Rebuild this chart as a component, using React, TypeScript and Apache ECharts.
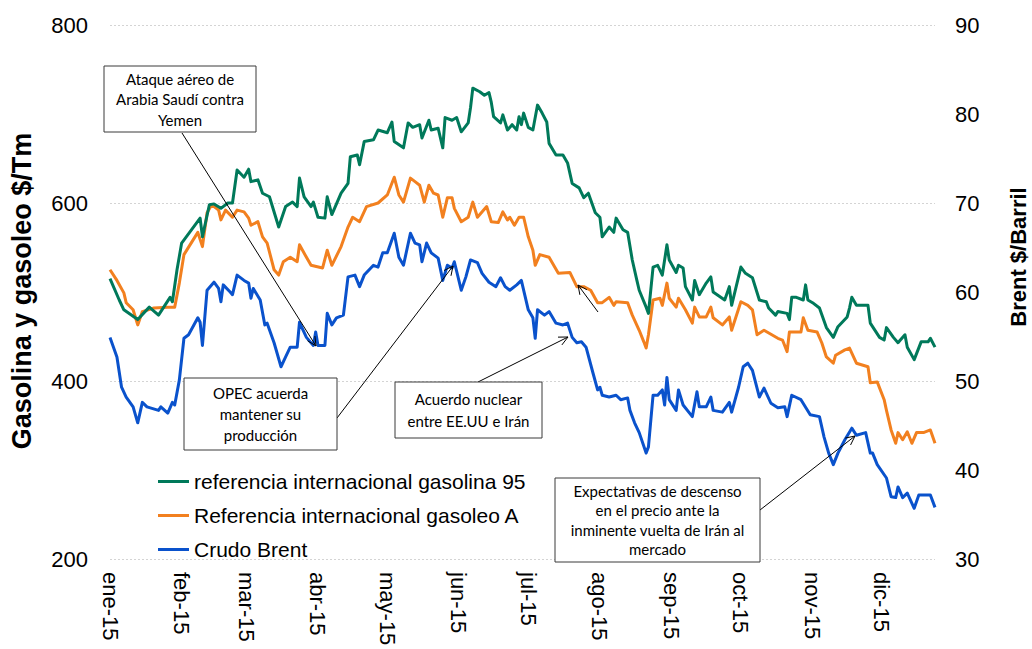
import React, { useEffect, useRef } from "react";
import * as echarts from "echarts";

const monthNames = ["ene", "feb", "mar", "abr", "may", "jun", "jul", "ago", "sep", "oct", "nov", "dic"];
const firstDay = "2015-01-01";
const lastDay = "2015-12-24";

const leftAxis = { min: 200, max: 800, interval: 200, name: "Gasolina y gasoleo $/Tm" };
const rightAxis = { min: 30, max: 90, interval: 10, name: "Brent $/Barril" };

const seriesNames = [
  "referencia internacional gasolina 95",
  "Referencia internacional gasoleo A",
  "Crudo Brent",
];

const gasolinaDates = [
  "01-01", "01-05", "01-07", "01-13", "01-18", "01-22", "01-27", "01-28", "01-30", "02-01",
  "02-03", "02-09", "02-10", "02-13", "02-15", "02-18", "02-21", "02-23", "02-25", "02-28",
  "03-02", "03-03", "03-06", "03-08", "03-11", "03-15", "03-18", "03-21", "03-23", "03-24",
  "03-26", "03-29", "03-30", "04-01", "04-04", "04-05", "04-07", "04-11", "04-14", "04-15",
  "04-18", "04-19", "04-21", "04-25", "04-27", "05-01", "05-03", "05-04", "05-08", "05-10",
  "05-12", "05-15", "05-16", "05-19", "05-20", "05-23", "05-25", "05-26", "05-29", "05-31",
  "06-02", "06-05", "06-06", "06-07", "06-10", "06-12", "06-14", "06-15", "06-16", "06-19",
  "06-20", "06-22", "06-24", "06-26", "06-27", "06-28", "06-29", "07-01", "07-03", "07-05",
  "07-07", "07-09", "07-10", "07-13", "07-16", "07-18", "07-20", "07-23", "07-25", "07-27",
  "07-30", "08-01", "08-02", "08-05", "08-07", "08-08", "08-11", "08-13", "08-15", "08-17",
  "08-18", "08-21", "08-22", "08-24", "08-26", "08-28", "08-30", "08-31", "09-03", "09-04",
  "09-06", "09-07", "09-10", "09-11", "09-13", "09-16", "09-18", "09-19", "09-24", "09-26",
  "09-27", "10-01", "10-03", "10-06", "10-09", "10-12", "10-13", "10-16", "10-17", "10-21",
  "10-22", "10-23", "10-25", "10-28", "10-29", "10-30", "11-01", "11-04", "11-07", "11-10",
  "11-12", "11-16", "11-17", "11-18", "11-20", "11-25", "11-26", "11-30", "12-02", "12-03",
  "12-06", "12-08", "12-09", "12-11", "12-12", "12-15", "12-18", "12-21", "12-22", "12-24",
];
const gasolinaValues = [
  515, 491, 480, 469, 483, 474, 494, 489, 525, 555,
  562, 583, 562, 598, 599, 594, 600, 600, 637, 629,
  638, 624, 626, 611, 607, 573, 596, 601, 596, 628,
  607, 596, 601, 584, 583, 607, 587, 611, 622, 652,
  654, 643, 669, 671, 682, 679, 691, 669, 662, 690,
  685, 688, 673, 693, 682, 684, 662, 696, 693, 696,
  680, 690, 707, 729, 725, 721, 724, 713, 697, 690,
  699, 682, 688, 682, 697, 688, 701, 685, 682, 710,
  701, 691, 667, 654, 654, 645, 622, 617, 606, 611,
  589, 584, 562, 573, 567, 583, 570, 567, 536, 513,
  502, 483, 476, 528, 530, 519, 553, 536, 522, 530,
  527, 506, 491, 513, 497, 510, 517, 500, 491, 506,
  485, 528, 521, 516, 491, 489, 482, 474, 478, 476,
  469, 494, 494, 491, 508, 491, 488, 482, 460, 449,
  461, 472, 482, 494, 485, 485, 465, 449, 446, 460,
  449, 443, 446, 452, 438, 424, 444, 444, 448, 438,
];

const gasoleoDates = [
  "01-01", "01-04", "01-07", "01-08", "01-11", "01-13", "01-15", "01-20", "01-26", "01-29",
  "01-31", "02-02", "02-08", "02-10", "02-12", "02-14", "02-17", "02-18", "02-20", "02-23",
  "02-25", "02-28", "03-02", "03-03", "03-06", "03-08", "03-10", "03-13", "03-15", "03-17",
  "03-20", "03-23", "03-24", "03-27", "03-29", "04-03", "04-05", "04-07", "04-11", "04-14",
  "04-16", "04-19", "04-22", "04-27", "05-01", "05-04", "05-06", "05-08", "05-11", "05-13",
  "05-15", "05-17", "05-19", "05-21", "05-23", "05-25", "05-27", "05-29", "05-30", "06-02",
  "06-05", "06-07", "06-09", "06-13", "06-15", "06-18", "06-20", "06-22", "06-23", "06-25",
  "06-27", "06-29", "07-01", "07-03", "07-04", "07-06", "07-10", "07-14", "07-19", "07-22",
  "07-25", "07-28", "07-31", "08-02", "08-05", "08-07", "08-08", "08-13", "08-15", "08-18",
  "08-20", "08-21", "08-22", "08-24", "08-27", "08-28", "08-30", "08-31", "09-03", "09-04",
  "09-07", "09-10", "09-11", "09-13", "09-16", "09-18", "09-19", "09-23", "09-26", "09-27",
  "10-01", "10-04", "10-06", "10-08", "10-11", "10-17", "10-19", "10-21", "10-22", "10-27",
  "10-28", "10-30", "11-03", "11-05", "11-07", "11-10", "11-11", "11-15", "11-17", "11-20",
  "11-25", "11-26", "11-29", "12-02", "12-03", "12-05", "12-07", "12-08", "12-10", "12-12",
  "12-14", "12-16", "12-19", "12-22", "12-24",
];
const gasoleoValues = [
  525, 513, 499, 488, 480, 463, 478, 482, 483, 483,
  510, 542, 567, 551, 589, 598, 592, 581, 592, 584,
  592, 590, 583, 575, 579, 562, 555, 525, 519, 534,
  539, 534, 553, 539, 530, 527, 547, 530, 551, 573,
  584, 579, 596, 600, 609, 629, 609, 601, 628, 624,
  620, 601, 620, 611, 609, 584, 606, 606, 594, 579,
  584, 601, 584, 596, 579, 578, 590, 581, 584, 575,
  584, 584, 562, 547, 530, 542, 539, 521, 522, 506,
  506, 502, 488, 488, 494, 485, 489, 488, 474, 457,
  444, 437, 452, 491, 493, 485, 510, 493, 483, 493,
  480, 465, 483, 472, 472, 483, 471, 463, 472, 457,
  489, 485, 480, 452, 457, 448, 446, 433, 455, 455,
  471, 457, 455, 443, 427, 420, 429, 435, 437, 420,
  416, 398, 399, 379, 367, 345, 330, 342, 334, 343,
  330, 342, 342, 345, 330,
];

const brentDates = [
  "01-01", "01-04", "01-06", "01-08", "01-11", "01-13", "01-15", "01-17", "01-22", "01-23",
  "01-26", "01-28", "01-29", "01-31", "02-02", "02-04", "02-08", "02-09", "02-10", "02-12",
  "02-15", "02-17", "02-18", "02-19", "02-22", "02-23", "02-25", "02-28", "03-02", "03-03",
  "03-04", "03-07", "03-09", "03-10", "03-13", "03-16", "03-18", "03-20", "03-23", "03-24",
  "03-27", "03-30", "03-31", "04-01", "04-04", "04-05", "04-07", "04-09", "04-12", "04-14",
  "04-17", "04-19", "04-21", "04-25", "04-27", "04-29", "05-01", "05-04", "05-06", "05-08",
  "05-11", "05-13", "05-15", "05-16", "05-18", "05-20", "05-23", "05-25", "05-27", "05-29",
  "05-30", "06-02", "06-04", "06-06", "06-09", "06-11", "06-14", "06-17", "06-19", "06-21",
  "06-23", "06-26", "06-28", "07-01", "07-03", "07-04", "07-05", "07-08", "07-10", "07-13",
  "07-16", "07-18", "07-20", "07-22", "07-24", "07-26", "07-29", "07-31", "08-01", "08-02",
  "08-05", "08-08", "08-10", "08-13", "08-14", "08-16", "08-18", "08-21", "08-22", "08-24",
  "08-26", "08-28", "08-29", "08-30", "08-31", "09-03", "09-04", "09-06", "09-10", "09-12",
  "09-13", "09-16", "09-18", "09-19", "09-23", "09-26", "09-27", "09-30", "10-02", "10-04",
  "10-06", "10-09", "10-11", "10-14", "10-17", "10-20", "10-21", "10-23", "10-27", "10-31",
  "11-04", "11-06", "11-08", "11-10", "11-12", "11-15", "11-18", "11-20", "11-24", "11-26",
  "11-27", "11-29", "12-03", "12-05", "12-07", "12-08", "12-10", "12-12", "12-15", "12-17",
  "12-22", "12-24",
];
const brentValues = [
  54.9, 52.7, 49.3, 48.2, 47.1, 45.3, 47.6, 47.1, 46.7, 47.1,
  46.4, 47.6, 47.3, 50.1, 54.8, 55.2, 57.1, 56.6, 54.0, 60.2,
  61.1, 60.4, 58.9, 60.8, 60.0, 59.7, 61.9, 61.3, 61.0, 59.3,
  60.4, 59.1, 56.3, 56.5, 54.3, 51.6, 52.7, 53.8, 53.8, 56.6,
  54.9, 54.0, 55.5, 54.0, 54.0, 57.6, 56.3, 57.1, 57.4, 61.7,
  61.9, 60.6, 61.9, 63.0, 62.8, 64.4, 64.4, 66.6, 63.9, 63.0,
  66.6, 65.5, 65.3, 63.4, 65.5, 64.4, 63.8, 61.3, 63.0, 62.7,
  63.4, 60.2, 61.7, 63.6, 63.3, 62.1, 61.1, 60.6, 61.6, 60.6,
  60.2, 60.8, 61.3, 58.0, 57.1, 54.8, 58.0, 57.4, 57.8, 56.5,
  56.3, 56.5, 54.9, 54.3, 54.4, 53.8, 50.9, 49.0, 49.3, 48.4,
  48.2, 48.4, 47.9, 48.1, 46.7, 45.3, 44.2, 41.9, 42.6, 48.4,
  48.4, 49.0, 47.3, 50.4, 47.9, 46.7, 49.0, 47.3, 46.0, 48.8,
  47.1, 47.1, 48.2, 46.7, 46.5, 47.6, 46.5, 49.3, 51.6, 52.0,
  51.2, 48.2, 49.2, 47.5, 47.0, 47.1, 46.0, 48.4, 47.9, 46.2,
  46.0, 43.7, 41.9, 40.6, 41.9, 43.4, 44.7, 43.9, 44.2, 41.9,
  41.9, 40.6, 39.1, 37.0, 36.9, 38.1, 36.9, 37.4, 35.7, 37.2,
  37.2, 35.8,
];

const colors = ["#00795A", "#F2801F", "#0A52CC"];
const FONT = "Liberation Sans, Arial, Helvetica, sans-serif";
const NOTE_FONT = "Lato, Open Sans, sans-serif";

function buildDays(): string[] {
  const out: string[] = [];
  const start = new Date(firstDay + "T00:00:00Z").getTime();
  const end = new Date(lastDay + "T00:00:00Z").getTime();
  for (let t = start; t <= end; t += 86400000) {
    out.push(new Date(t).toISOString().slice(0, 10));
  }
  return out;
}

function buildSeries(days: string[], dates: string[], values: number[]) {
  const data: (number | null)[] = days.map(() => null);
  dates.forEach((d, i) => {
    const idx = days.indexOf("2015-" + d);
    if (idx >= 0) data[idx] = values[i];
  });
  return data;
}

function arrow(x1: number, y1: number, x2: number, y2: number) {
  const ang = Math.atan2(y2 - y1, x2 - x1);
  const len = 10;
  const spread = 0.45;
  const a1 = ang + Math.PI - spread;
  const a2 = ang + Math.PI + spread;
  return [
    {
      type: "line",
      z: 100,
      shape: { x1, y1, x2, y2 },
      style: { stroke: "#000", lineWidth: 1 },
    },
    {
      type: "polyline",
      z: 100,
      shape: {
        points: [
          [x2 + len * Math.cos(a1), y2 + len * Math.sin(a1)],
          [x2, y2],
          [x2 + len * Math.cos(a2), y2 + len * Math.sin(a2)],
        ],
      },
      style: { stroke: "#000", lineWidth: 1, fill: null },
    },
  ];
}

function note(x: number, y: number, w: number, h: number, text: string, lineHeight: number) {
  return [
    {
      type: "rect",
      z: 101,
      shape: { x, y, width: w, height: h },
      style: { fill: "#fff", stroke: "#3a3a3a", lineWidth: 1 },
    },
    {
      type: "text",
      z: 102,
      x: x + w / 2,
      y: y + h / 2,
      style: {
        text,
        fill: "#000",
        fontFamily: NOTE_FONT,
        fontSize: 15,
        lineHeight,
        align: "center",
        verticalAlign: "middle",
        textAlign: "center",
        textVerticalAlign: "middle",
      },
    },
  ];
}

export default function App() {
  const ref = useRef<HTMLDivElement>(null);

  useEffect(() => {
    document.body.style.margin = "0";
    if (!ref.current) return;
    const chart = echarts.init(ref.current, null, { renderer: "svg" });
    const days = buildDays();
    const allDates = [gasolinaDates, gasoleoDates, brentDates];
    const allValues = [gasolinaValues, gasoleoValues, brentValues];

    const graphics: any[] = [
      {
        type: "text",
        z: 100,
        x: 22,
        y: 291,
        rotation: Math.PI / 2,
        style: {
          text: leftAxis.name,
          fill: "#000",
          fontFamily: FONT,
          fontSize: 27,
          fontWeight: "bold",
          align: "center",
          verticalAlign: "middle",
          textAlign: "center",
          textVerticalAlign: "middle",
        },
      },
      {
        type: "text",
        z: 100,
        x: 1018,
        y: 257,
        rotation: Math.PI / 2,
        style: {
          text: rightAxis.name,
          fill: "#000",
          fontFamily: FONT,
          fontSize: 22,
          fontWeight: "bold",
          align: "center",
          verticalAlign: "middle",
          textAlign: "center",
          textVerticalAlign: "middle",
        },
      },
      ...arrow(182, 133, 316, 346),
      ...arrow(337, 418, 453, 266),
      ...arrow(478, 382, 568, 337),
      ...arrow(598, 312, 578, 285),
      ...arrow(760, 510, 855, 436),
      ...note(104, 66, 152, 66, "Ataque aéreo de\nArabia Saudí contra\nYemen", 20.5),
      ...note(184, 378, 153, 72, "OPEC acuerda\nmantener su\nproducción", 21),
      ...note(395, 382, 147, 56, "Acuerdo nuclear\nentre EE.UU e Irán", 22),
      ...note(555, 478, 205, 84, "Expectativas de descenso\nen el precio ante la\ninminente vuelta de Irán al\nmercado", 19.5),
    ];

    chart.setOption({
      animation: false,
      backgroundColor: "#fff",
      grid: { left: 110, right: 97, top: 25, bottom: 90, containLabel: false },
      legend: {
        data: seriesNames,
        orient: "vertical",
        left: 153,
        top: 465,
        icon: "rect",
        itemWidth: 31,
        itemHeight: 3,
        itemGap: 11,
        textStyle: { fontFamily: FONT, fontSize: 21, color: "#000", lineHeight: 23 },
      },
      xAxis: {
        type: "category",
        data: days,
        boundaryGap: false,
        axisLine: { show: false },
        axisTick: { show: false },
        splitLine: { show: false },
        axisLabel: {
          interval: (_i: number, v: string) => v.endsWith("-01"),
          rotate: -90,
          margin: 13,
          fontFamily: FONT,
          fontSize: 22,
          color: "#000",
          formatter: (v: string) => monthNames[parseInt(v.slice(5, 7), 10) - 1] + "-15",
        },
      },
      yAxis: [
        {
          type: "value",
          min: leftAxis.min,
          max: leftAxis.max,
          interval: leftAxis.interval,
          axisLine: { show: false },
          axisTick: { show: false },
          axisLabel: { fontFamily: FONT, fontSize: 22, color: "#000", margin: 22 },
          splitLine: { show: true, lineStyle: { color: "#d4d4d4", type: [2, 2], width: 1 } },
        },
        {
          type: "value",
          min: rightAxis.min,
          max: rightAxis.max,
          interval: rightAxis.interval,
          position: "right",
          axisLine: { show: false },
          axisTick: { show: false },
          axisLabel: { fontFamily: FONT, fontSize: 22, color: "#000", margin: 20 },
          splitLine: { show: false },
        },
      ],
      series: seriesNames.map((name, i) => ({
        name,
        type: "line",
        yAxisIndex: i === 2 ? 1 : 0,
        data: buildSeries(days, allDates[i], allValues[i]),
        connectNulls: true,
        showSymbol: false,
        symbol: "none",
        lineStyle: { color: colors[i], width: 3, join: "round" },
        itemStyle: { color: colors[i] },
        z: 3 - i,
      })),
      graphic: graphics,
    });

    return () => chart.dispose();
  }, []);

  return <div ref={ref} style={{ width: 1032, height: 649 }} />;
}
